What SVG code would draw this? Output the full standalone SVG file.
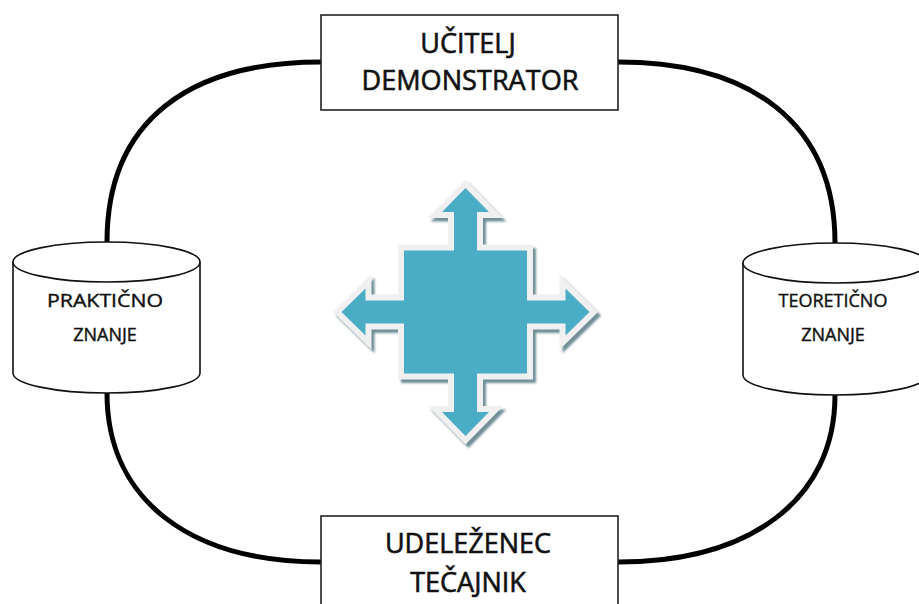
<svg xmlns="http://www.w3.org/2000/svg" width="919" height="604" viewBox="0 0 919 604">
<style>
.box{fill:#fff;stroke:#222;stroke-width:1.6}
.cyl{fill:#fff;stroke:#111;stroke-width:1.6}
.conn{fill:none;stroke:#000;stroke-width:5}
.big{font-family:"Open Sans","DejaVu Sans",sans-serif;font-size:27px;fill:#111;stroke:#111;stroke-width:0.6;text-anchor:middle}
.small{font-family:"Open Sans","DejaVu Sans",sans-serif;font-size:18px;fill:#111;stroke:#111;stroke-width:0.4;text-anchor:middle}
</style>
<defs>
<path id="cross" d="M0,-124 L23.5,-100 L11.5,-100 L11.5,-61.5 L61.5,-61.5 L61.5,-11.5 L100,-11.5 L100,-23.5 L124,0 L100,23.5 L100,11.5 L61.5,11.5 L61.5,61.5 L11.5,61.5 L11.5,100 L23.5,100 L0,124 L-23.5,100 L-11.5,100 L-11.5,61.5 L-61.5,61.5 L-61.5,11.5 L-100,11.5 L-100,23.5 L-124,0 L-100,-23.5 L-100,-11.5 L-61.5,-11.5 L-61.5,-61.5 L-11.5,-61.5 L-11.5,-100 L-23.5,-100 Z"/>
<filter id="blur" x="-10%" y="-10%" width="120%" height="120%"><feGaussianBlur stdDeviation="1"/></filter>
</defs>
<g id="connectors">
<path class="conn" d="M321,62 C190,62 107,120 107,242"/>
<path class="conn" d="M618,62 C750,62 835,122 835,243"/>
<path class="conn" d="M107,393 C107,500 190,562 321,562"/>
<path class="conn" d="M835,395 C835,500 750,562 618,562"/>
</g>
<g id="teacher">
<rect class="box" x="321" y="15" width="297" height="95"/>
<text class="big" x="468" y="53">UČITELJ</text>
<text class="big" x="470" y="90" textLength="217" lengthAdjust="spacingAndGlyphs">DEMONSTRATOR</text>
</g>
<g id="participant">
<rect class="box" x="321" y="516" width="297" height="100"/>
<text class="big" x="468" y="553">UDELEŽENEC</text>
<text class="big" x="468" y="592">TEČAJNIK</text>
</g>
<g id="practical">
<path class="cyl" d="M13,262 L13,373 A93.5,20 0 0 0 200,373 L200,262"/>
<ellipse class="cyl" cx="106.5" cy="262" rx="93.5" ry="20"/>
<text class="small" x="105" y="307" textLength="116" lengthAdjust="spacingAndGlyphs">PRAKTIČNO</text>
<text class="small" x="105" y="341">ZNANJE</text>
</g>
<g id="theoretical">
<path class="cyl" d="M743,263 L743,375 A92,20 0 0 0 927,375 L927,263"/>
<ellipse class="cyl" cx="835" cy="263" rx="92" ry="20"/>
<text class="small" x="833" y="307">TEORETIČNO</text>
<text class="small" x="833" y="341">ZNANJE</text>
</g>
<g id="arrows">
<use href="#cross" transform="translate(468.5,315.5)" fill="#6f8f96" stroke="#6f8f96" stroke-width="12" stroke-linejoin="miter" filter="url(#blur)"/>
<use href="#cross" transform="translate(465.5,312)" fill="#4BACC6" stroke="#f0f0f0" stroke-width="12" stroke-linejoin="miter" paint-order="stroke"/>
</g>
</svg>
